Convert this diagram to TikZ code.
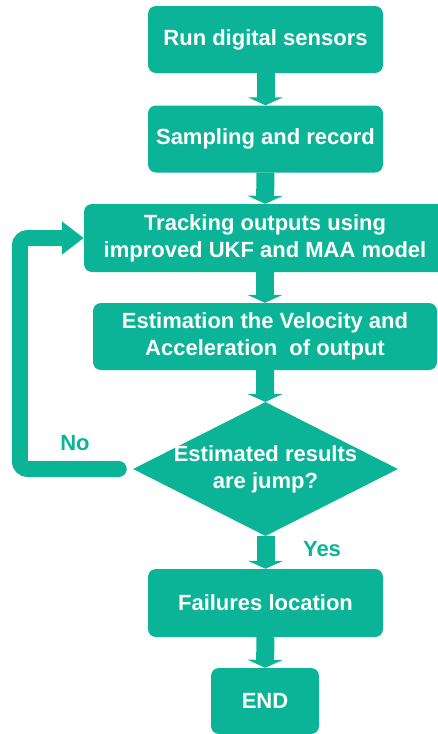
\documentclass[tikz,border=0pt]{standalone}
\usepackage{fontspec}
\setmainfont{Liberation Sans}
\usetikzlibrary{shapes.geometric,arrows.meta}
\definecolor{flowgreen}{RGB}{11,180,150}

\begin{document}
\begin{tikzpicture}[x=1pt,y=-1pt,
                    every node/.style={font=\fontsize{22}{27}\selectfont\bfseries},
                    box/.style={fill=flowgreen,rounded corners=8pt,text=white,align=center,inner sep=0pt,minimum height=67pt},
                    decision/.style={diamond,fill=flowgreen,minimum width=265pt,minimum height=134pt,inner sep=0pt},
                    flowarrow/.style={draw=flowgreen,line width=18pt,-{Triangle[width=35pt,length=8pt]}},
                    loopline/.style={draw=flowgreen,line width=16pt,line cap=round,rounded corners=8pt,-{Triangle[width=32pt,length=22pt]}},
                    answer/.style={text=flowgreen}
]
\useasboundingbox (0,0) rectangle (438,734);

\node [box,minimum width=235pt] at (265.5,39.5) (run) {Run digital sensors};
\node [box,minimum width=235pt] at (265.5,139) (sample) {Sampling and record};
\node [box,minimum width=362pt,minimum height=68pt] at (265,238) (track) {Tracking outputs using\\improved UKF and MAA model};
\node [box,minimum width=344pt] at (265,336.5) (estim) {Estimation the Velocity and\\Acceleration~ of output};
\node [decision,label={[text=white,align=center]center:{Estimated results\\are jump?}}] at (265.5,469) (jump) {};
\node [box,minimum width=235pt,minimum height=68pt] at (265.5,603) (fail) {Failures location};
\node [box,minimum width=108pt,minimum height=66pt] at (265,701) (stop) {END};
%
\draw [flowarrow] (run) -- (sample);
\draw [flowarrow] (sample) -- (track);
\draw [flowarrow] (track) -- (estim);
\draw [flowarrow] (estim) -- (jump);
\draw [flowarrow] (jump) -- (fail);
\draw [flowarrow] (fail) -- (stop);
%
\draw [loopline,shorten <=14pt] (jump.west) -- ++(-113,0) |- (track.west);
\node [answer] at (75,443) (no) {No};
\node [answer] at (322,549) (yes) {Yes};
\end{tikzpicture}
\end{document}
